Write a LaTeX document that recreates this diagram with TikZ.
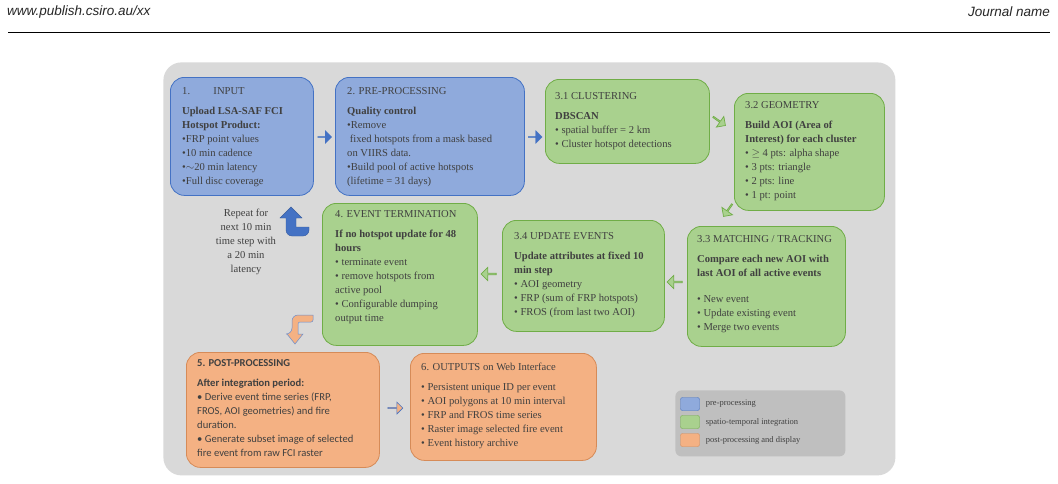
\documentclass[tikz,border=0pt]{standalone}
\usepackage{fontspec}
\setmainfont{Liberation Serif}
\newfontfamily\hdr{Liberation Sans}
\newfontfamily\carl{Carlito}
\usetikzlibrary{shapes.arrows}
\definecolor{bgray}{HTML}{D9D9D9}
\definecolor{lgray}{HTML}{BFBFBF}
\definecolor{bfill}{HTML}{8FAADC}
\definecolor{bline}{HTML}{4472C4}
\definecolor{gfill}{HTML}{A9D18E}
\definecolor{gline}{HTML}{70AD47}
\definecolor{ofill}{HTML}{F4B183}
\definecolor{oline}{HTML}{C55A11}
\definecolor{txt}{HTML}{404040}
\begin{document}
\begin{tikzpicture}[x=1pt,y=-1pt,
  box/.style={draw,line width=0.8pt,rounded corners=14pt,inner sep=0,anchor=north west},
  bbox/.style={box,fill=bfill,draw=bline},
  gbox/.style={box,fill=gfill,draw=gline},
  obox/.style={box,fill=ofill,draw=oline!70},
  tx/.style={anchor=north west,inner sep=0,align=left,text=txt,font=\fontsize{10.6}{14}\selectfont},
  blk/.style={single arrow,draw=bline,fill=bline,minimum height=14pt,minimum width=13pt,single arrow head extend=3pt,inner sep=0},
  harr/.style={single arrow,draw=gline,fill=gfill,minimum height=15pt,minimum width=13pt,single arrow head extend=3pt,inner sep=0,line width=0.7pt},
  oarr/.style={single arrow,draw=bline,fill=ofill,minimum height=15pt,minimum width=12pt,single arrow head extend=2.5pt,inner sep=0,line width=0.6pt},
]
\useasboundingbox (0,0) rectangle (1058,483);
\fill[white] (0,0) rectangle (1058,483);
\node[anchor=west,inner sep=0,font=\hdr\itshape\fontsize{13.5}{15}\selectfont,text=black!85] (h1) at (7,12) {www.publish.csiro.au/xx};
\node[anchor=east,inner sep=0,font=\hdr\itshape\fontsize{13.5}{15}\selectfont,text=black!85] (h2) at (1050,12) {Journal name};
\draw[line width=0.6pt] (8,32) -- (1050,32);
\node[box,draw=none,fill=bgray,rounded corners=18pt,minimum width=732pt,minimum height=413pt] (bg) at (163,62) {};
% boxes
\node[bbox,minimum width=143pt,minimum height=118pt] (b1) at (170,77) {};
\node[tx] (t1) at (182,87) {1.\hspace{2.2em}INPUT\\[6pt]\textbf{Upload LSA-SAF FCI}\\\textbf{Hotspot Product:}\\•FRP point values\\•10 min cadence\\•$\sim$20 min latency\\•Full disc coverage};
\node[bbox,minimum width=189pt,minimum height=118pt] (b2) at (335,77) {};
\node[tx] (t2) at (347,87) {2. PRE-PROCESSING\\[6pt]\textbf{Quality control}\\•Remove\\\ fixed hotspots from a mask based\\on VIIRS data.\\•Build pool of active hotspots\\(lifetime = 31 days)};
\node[gbox,minimum width=164pt,minimum height=84pt] (b31) at (545,79) {};
\node[tx] (t31) at (555,92) {3.1 CLUSTERING\\[6pt]\textbf{DBSCAN}\\• spatial buffer = 2 km\\• Cluster hotspot detections};
\node[gbox,minimum width=150pt,minimum height=117pt] (b32) at (734,93) {};
\node[tx] (t32) at (745,101) {3.2 GEOMETRY\\[6pt]\textbf{Build AOI (Area of}\\\textbf{Interest) for each cluster}\\• $\geq$ 4 pts: alpha shape\\• 3 pts: triangle\\• 2 pts: line\\• 1 pt: point};
\node[gbox,minimum width=158pt,minimum height=120pt] (b33) at (687,226) {};
\node[tx] (t33) at (697,235) {3.3 MATCHING / TRACKING\\[6pt]\textbf{Compare each new AOI with}\\\textbf{last AOI of all active events}\\[12pt]• New event\\• Update existing event\\• Merge two events};
\node[gbox,minimum width=162pt,minimum height=111pt] (b34) at (502,220) {};
\node[tx] (t34) at (514,232) {3.4 UPDATE EVENTS\\[6pt]\textbf{Update attributes at fixed 10}\\\textbf{min step}\\• AOI geometry\\• FRP (sum of FRP hotspots)\\• FROS (from last two AOI)};
\node[gbox,minimum width=155pt,minimum height=142pt] (b4) at (322,203) {};
\node[tx] (t4) at (335,210) {4. EVENT TERMINATION\\[6pt]\textbf{If no hotspot update for 48}\\\textbf{hours}\\• terminate event\\• remove hotspots from\\active pool\\• Configurable dumping\\output time};
\node[obox,minimum width=193pt,minimum height=115pt] (b5) at (186,352) {};
\node[tx,font=\carl\fontsize{10.6}{14}\selectfont] (t5) at (197,359) {\textbf{5. POST-PROCESSING}\\[6pt]\textbf{After integration period:}\\• Derive event time series (FRP,\\FROS, AOI geometries) and fire\\duration.\\• Generate subset image of selected\\fire event from raw FCI raster};
\node[obox,minimum width=186pt,minimum height=107pt] (b6) at (410,353) {};
\node[tx] (t6) at (421,363) {6. OUTPUTS on Web Interface\\[6pt]• Persistent unique ID per event\\• AOI polygons at 10 min interval\\• FRP and FROS time series\\• Raster image selected fire event\\• Event history archive};
\node[tx,anchor=north,align=center] (rep) at (246,209) {Repeat for\\next 10 min\\time step with\\a 20 min\\latency};
% legend
\node[box,draw=none,fill=lgray,rounded corners=6pt,minimum width=170pt,minimum height=66pt] (lg) at (675,390) {};
\node[draw=bline,fill=bfill,rounded corners=2pt,minimum width=19pt,minimum height=13pt,inner sep=0] (l1) at (690,404) {};
\node[draw=gline,fill=gfill,rounded corners=2pt,minimum width=19pt,minimum height=13pt,inner sep=0] (l2) at (690,422) {};
\node[draw=oline!70,fill=ofill,rounded corners=2pt,minimum width=19pt,minimum height=13pt,inner sep=0] (l3) at (690,440) {};
\node[anchor=west,inner sep=0,text=txt,font=\fontsize{8.5}{9}\selectfont] at ([xshift=6pt]l1.east) {pre-processing};
\node[anchor=west,inner sep=0,text=txt,font=\fontsize{8.5}{9}\selectfont] at ([xshift=6pt]l2.east) {spatio-temporal integration};
\node[anchor=west,inner sep=0,text=txt,font=\fontsize{8.5}{9}\selectfont] at ([xshift=6pt]l3.east) {post-processing and display};
% arrows
\node[blk] (a1) at (324.5,137) {};
\node[blk] (a2) at (535,137) {};
\node[harr,rotate=-35] (a3) at (719,121) {};
\node[harr,rotate=-125] (a4) at (728,210) {};
\node[harr,rotate=180] (a5) at (675,282) {};
\node[harr,rotate=180] (a6) at (489,274) {};
\node[oarr] (a7) at (395,408) {};
\filldraw[fill=bline,draw=bline!80!black,line width=0.4pt] (309,227) -- (296,227) -- (296,218) -- (302,218) -- (291,207) -- (280,218) -- (286,218) [rounded corners=6pt] -- (286,236) -- (309,236) [sharp corners] -- cycle;
\filldraw[fill=ofill,draw=bline!80,line width=0.5pt] (313,315) -- (300,315) [rounded corners=6pt] -- (292,315) -- (292,334) [sharp corners] -- (287,334) -- (295,344) -- (303,334) -- (298,334) [rounded corners=2pt] -- (298,322) -- (313,322) [sharp corners] -- cycle;
\end{tikzpicture}
\end{document}
